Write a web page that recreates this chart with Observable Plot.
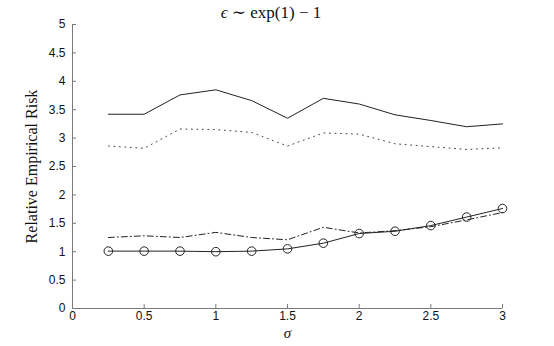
<!DOCTYPE html>
<html><head><meta charset="utf-8">
<script src="https://cdn.jsdelivr.net/npm/d3@7"></script>
<script src="https://cdn.jsdelivr.net/npm/@observablehq/plot@0.6"></script>
<style>body{margin:0;background:#fff} svg{display:block}</style>
</head><body><div id="chart"></div>
<script>
const sigma   = [0.25, 0.5, 0.75, 1.0, 1.25, 1.5, 1.75, 2.0, 2.25, 2.5, 2.75, 3.0];
const solid   = [3.42, 3.42, 3.76, 3.85, 3.66, 3.35, 3.70, 3.60, 3.41, 3.31, 3.20, 3.25];
const dotted  = [2.86, 2.82, 3.16, 3.15, 3.10, 2.86, 3.09, 3.07, 2.90, 2.85, 2.80, 2.83];
const dashdot = [1.25, 1.28, 1.25, 1.34, 1.25, 1.21, 1.43, 1.33, 1.37, 1.44, 1.56, 1.69];
const circles = [1.01, 1.01, 1.01, 1.00, 1.01, 1.05, 1.15, 1.32, 1.36, 1.46, 1.61, 1.76];
const xTicks = [0, 0.5, 1, 1.5, 2, 2.5, 3];
const yTicks = [0, 0.5, 1, 1.5, 2, 2.5, 3, 3.5, 4, 4.5, 5];
const titleText = ["ϵ", " ∼ exp(1) − 1"];
const xLabel = "σ";
const yLabel = "Relative Empirical Risk";

const rows = vals => sigma.map((s, i) => ({s, v: vals[i]}));
const axisColor = "#7a7a7a";
const lineColor = "#222";

const chart = Plot.plot({
  width: 554, height: 346,
  marginLeft: 72, marginRight: 52, marginTop: 24, marginBottom: 38,
  style: {fontFamily: "'Liberation Sans', Arial, sans-serif", fontSize: "12px", color: "#111", background: "#fff"},
  x: {domain: [0, 3]},
  y: {domain: [0, 5]},
  marks: [
    Plot.axisX({ticks: xTicks, tickSize: 0, tickPadding: 3, label: null, tickFormat: d => String(d)}),
    Plot.axisY({ticks: yTicks, tickSize: 0, tickPadding: 7, label: null, tickFormat: d => String(d)}),
    Plot.ruleX([0], {stroke: axisColor}),
    Plot.ruleY([0], {stroke: axisColor}),
    Plot.ruleY(yTicks, {x1: 0, x2: 0, insetRight: -4, stroke: axisColor}),
    Plot.ruleX(xTicks, {y1: 0, y2: 0, insetTop: -4, stroke: axisColor}),
    Plot.line(rows(solid), {x: "s", y: "v", stroke: lineColor, strokeWidth: 1}),
    Plot.line(rows(dotted), {x: "s", y: "v", stroke: "#444", strokeWidth: 1, strokeDasharray: "1,4.5"}),
    Plot.line(rows(dashdot), {x: "s", y: "v", stroke: lineColor, strokeWidth: 1, strokeDasharray: "6,3,1,3"}),
    Plot.line(rows(circles), {x: "s", y: "v", stroke: lineColor, strokeWidth: 1}),
    Plot.dot(rows(circles), {x: "s", y: "v", r: 4.3, stroke: lineColor, fill: "none", strokeWidth: 1}),
    Plot.text([xLabel], {frameAnchor: "bottom", dy: 25, lineAnchor: "middle", textAnchor: "middle", fontFamily: "'Liberation Serif', serif", fontStyle: "italic", fontSize: 15, fill: "#111"}),
    Plot.text([yLabel], {frameAnchor: "left", dx: -41, rotate: -90, textAnchor: "middle", lineAnchor: "middle", fontFamily: "'Liberation Serif', serif", fontSize: 16, fill: "#111"})
  ]
});
document.getElementById("chart").appendChild(chart);

const t = d3.select(chart).append("text")
  .attr("x", 271).attr("y", 18).attr("text-anchor", "middle")
  .style("font-family", "'Liberation Serif', 'DejaVu Serif', serif")
  .style("font-size", "17px").attr("fill", "#111");
t.append("tspan").style("font-style", "italic").text(titleText[0]);
t.append("tspan").text(titleText[1]);
</script>
</body></html>
